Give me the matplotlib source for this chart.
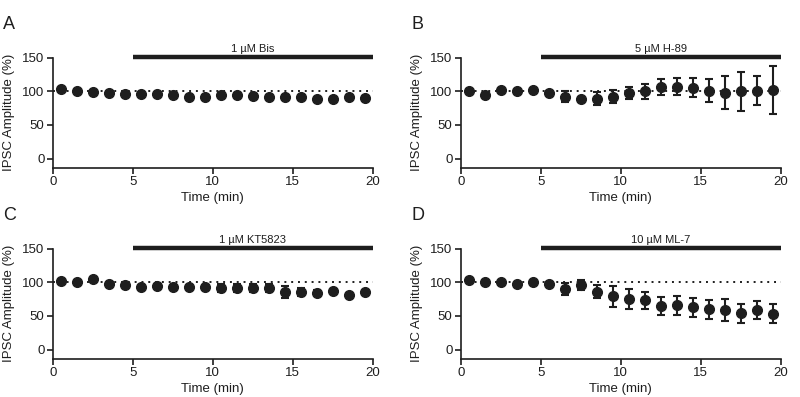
import numpy as np
import matplotlib
matplotlib.use("Agg")
import matplotlib.pyplot as plt

plt.rcParams['font.family'] = ['Liberation Sans', 'DejaVu Sans']

# time bins (min)
time = [0.5, 1.5, 2.5, 3.5, 4.5, 5.5, 6.5, 7.5, 8.5, 9.5,
        10.5, 11.5, 12.5, 13.5, 14.5, 15.5, 16.5, 17.5, 18.5, 19.5]

# A: 1 uM Bis
bis_mean = [103, 101, 99, 97, 96, 96, 96, 94, 91, 92,
            94, 94, 93, 91, 92, 91, 88, 88, 91, 90]
bis_err = [2, 2, 2, 2, 2, 2, 2, 3, 3, 3,
           3, 3, 3, 3, 3, 4, 3, 3, 3, 3]

# B: 5 uM H-89
h89_mean = [101, 94, 102, 100, 102, 97, 92, 88, 89, 92,
            97, 100, 106, 107, 105, 101, 98, 100, 101, 102]
h89_err = [2, 2, 2, 2, 2, 3, 8, 4, 10, 10,
           9, 11, 12, 13, 14, 17, 25, 29, 22, 36]

# C: 1 uM KT5823
kt_mean = [102, 101, 105, 97, 96, 93, 94, 93, 93, 93,
           92, 92, 91, 91, 86, 86, 84, 87, 81, 86]
kt_err = [2, 2, 2, 2, 2, 3, 3, 3, 3, 3,
          6, 6, 6, 6, 9, 6, 5, 3, 3, 3]

# D: 10 uM ML-7
ml7_mean = [104, 101, 100, 97, 100, 98, 90, 96, 86, 79,
            75, 73, 65, 66, 63, 60, 59, 54, 59, 53]
ml7_err = [2, 2, 2, 2, 2, 2, 9, 7, 10, 16,
           15, 13, 13, 14, 14, 14, 16, 14, 13, 14]

panels = [
    ("A", "1 \u00b5M Bis", bis_mean, bis_err, [0.066, 0.577, 0.4, 0.278]),
    ("B", "5 \u00b5M H-89", h89_mean, h89_err, [0.576, 0.577, 0.4, 0.278]),
    ("C", "1 \u00b5M KT5823", kt_mean, kt_err, [0.066, 0.096, 0.4, 0.278]),
    ("D", "10 \u00b5M ML-7", ml7_mean, ml7_err, [0.576, 0.096, 0.4, 0.278]),
]

ink = "#1e1e1e"
fig = plt.figure(figsize=(8.0, 3.97), dpi=100)

for letter, drug, mean, err, pos in panels:
    ax = fig.add_axes(pos)
    ax.plot([0, 20], [100, 100], linestyle=(0, (1, 2.5)), color=ink, lw=1.4, zorder=1)
    ax.errorbar(time, mean, yerr=err, fmt='o', color=ink, ms=7,
                elinewidth=1.5, capsize=3, capthick=1.5, zorder=3, clip_on=False)
    # drug application bar
    ax.plot([5, 20], [151.5, 151.5], color=ink, lw=3.2, solid_capstyle='butt', clip_on=False)
    ax.text(12.5, 155, drug, ha='center', va='bottom', fontsize=8, color=ink)

    ax.set_xlim(0, 20)
    ax.set_ylim(-13.8, 150)
    ax.set_xticks([0, 5, 10, 15, 20])
    ax.set_yticks([0, 50, 100, 150])
    for s in ['top', 'right']:
        ax.spines[s].set_visible(False)
    for s in ['left', 'bottom']:
        ax.spines[s].set_linewidth(1.2)
        ax.spines[s].set_color(ink)
    ax.tick_params(direction='out', length=4, width=1.2, colors=ink, labelsize=9.5, pad=2)
    ax.set_xlabel("Time (min)", fontsize=9.5, color=ink, labelpad=3)
    ax.set_ylabel("IPSC Amplitude (%)", fontsize=9.5, color=ink, labelpad=5)

    fig.text(pos[0] - 0.062, pos[1] + pos[3] + 0.105, letter, fontsize=13, color=ink,
             ha='left', va='top')

fig.savefig("out.png", dpi=100)
